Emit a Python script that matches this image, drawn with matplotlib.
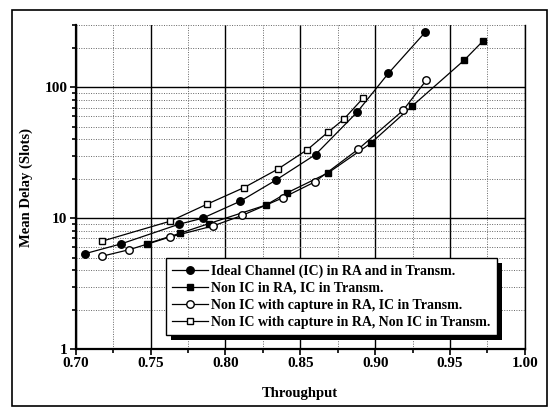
import matplotlib
matplotlib.use("Agg")
from matplotlib import pyplot as plt
from matplotlib.patches import Rectangle
from matplotlib.ticker import FixedLocator, NullFormatter, LogLocator

# Ideal Channel (IC) in RA and in Transm.
ic_x = [0.7065, 0.7304, 0.769, 0.7847, 0.810, 0.8335, 0.8602, 0.8878, 0.9088, 0.9334]
ic_y = [5.37, 6.37, 9.0, 10.0, 13.5, 19.5, 30.7, 64.4, 128, 264]

# Non IC in RA, IC in Transm.
nic_x = [0.7473, 0.7696, 0.789, 0.827, 0.841, 0.8688, 0.8969, 0.9247, 0.9596, 0.9718]
nic_y = [6.37, 7.67, 9.1, 12.6, 15.6, 22.3, 37.3, 72, 162, 225]

# Non IC with capture in RA, IC in Transm.
cap_x = [0.7175, 0.7358, 0.7631, 0.7917, 0.8111, 0.8382, 0.8595, 0.8887, 0.9186, 0.9343]
cap_y = [5.12, 5.75, 7.19, 8.73, 10.5, 14.3, 18.9, 33.7, 66.7, 114]

# Non IC with capture in RA, Non IC in Transm.
capn_x = [0.7175, 0.7631, 0.7877, 0.8122, 0.8349, 0.8548, 0.8688, 0.8789, 0.8922]
capn_y = [6.67, 9.49, 12.8, 17.1, 23.7, 33.5, 45.8, 56.9, 83.4]

labels = [
    "Ideal Channel (IC) in RA and in Transm.",
    "Non IC in RA, IC in Transm.",
    "Non IC with capture in RA, IC in Transm.",
    "Non IC with capture in RA, Non IC in Transm.",
]
x_ticks = [0.70, 0.75, 0.80, 0.85, 0.90, 0.95, 1.00]
y_ticks = [1, 10, 100]

plt.rcParams["font.family"] = "Liberation Serif"

fig = plt.figure(figsize=(5.49, 4.07), dpi=100)
ax = fig.add_axes([0.138, 0.1425, 0.818, 0.796])

# frame around the whole figure
fig.patches.append(Rectangle((0.021, 0.003), 0.975, 0.972, transform=fig.transFigure,
                             fill=False, edgecolor="black", linewidth=1.2))

style = dict(color="black", linewidth=0.9, markeredgewidth=1.0)
ax.plot(ic_x, ic_y, marker="o", markersize=5.4, markerfacecolor="black", label=labels[0], **style)
ax.plot(nic_x, nic_y, marker="s", markersize=5.0, markerfacecolor="black", label=labels[1], **style)
ax.plot(cap_x, cap_y, marker="o", markersize=5.4, markerfacecolor="white", label=labels[2], **style)
ax.plot(capn_x, capn_y, marker="s", markersize=5.0, markerfacecolor="white", label=labels[3], **style)

ax.set_yscale("log")
ax.set_xlim(0.70, 1.00)
ax.set_ylim(1, 300)

ax.xaxis.set_major_locator(FixedLocator(x_ticks))
ax.xaxis.set_minor_locator(FixedLocator([v + 0.025 for v in x_ticks[:-1]]))
ax.set_xticklabels([f"{v:.2f}" for v in x_ticks])
ax.yaxis.set_major_locator(FixedLocator(y_ticks))
ax.yaxis.set_minor_locator(LogLocator(base=10, subs=range(2, 10)))
ax.yaxis.set_minor_formatter(NullFormatter())
ax.set_yticklabels([str(v) for v in y_ticks])

ax.grid(which="major", color="black", linestyle="-", linewidth=1.0)
ax.grid(which="minor", color="#666666", linestyle=(0, (1, 1.5)), linewidth=0.7)
ax.set_axisbelow(True)

ax.tick_params(which="both", direction="out", width=1.2, labelsize=11)
ax.tick_params(which="major", length=4, pad=2)
ax.tick_params(which="minor", length=3)
for lbl in ax.get_xticklabels() + ax.get_yticklabels():
    lbl.set_fontweight("bold")

ax.spines["top"].set_visible(False)
ax.spines["left"].set_linewidth(1.6)
ax.spines["bottom"].set_linewidth(1.6)
ax.spines["right"].set_linewidth(1.0)

ax.set_xlabel("Throughput", fontsize=10.5, fontweight="bold", labelpad=12)
ax.set_ylabel("Mean Delay (Slots)", fontsize=10.5, fontweight="bold", labelpad=8)

leg = ax.legend(loc="upper left", bbox_to_anchor=(0.201, 0.281), borderaxespad=0,
                prop={"weight": "bold", "size": 10}, labelspacing=0.3,
                handlelength=2.6, handletextpad=0.2, borderpad=0.45, fancybox=False,
                framealpha=1.0)
leg.get_frame().set_edgecolor("black")
leg.get_frame().set_linewidth(1.0)

# solid black drop shadow just under the legend box
fig.canvas.draw()
bb = leg.get_window_extent().transformed(ax.transAxes.inverted())
dx, dy = 5 / ax.bbox.width, 5 / ax.bbox.height
shadow = Rectangle((bb.x0 + dx, bb.y0 - dy), bb.width, bb.height, transform=ax.transAxes,
                   facecolor="black", edgecolor="none", zorder=leg.get_zorder() - 0.1,
                   clip_on=False)
ax.add_patch(shadow)

fig.savefig("out.png", dpi=100)
